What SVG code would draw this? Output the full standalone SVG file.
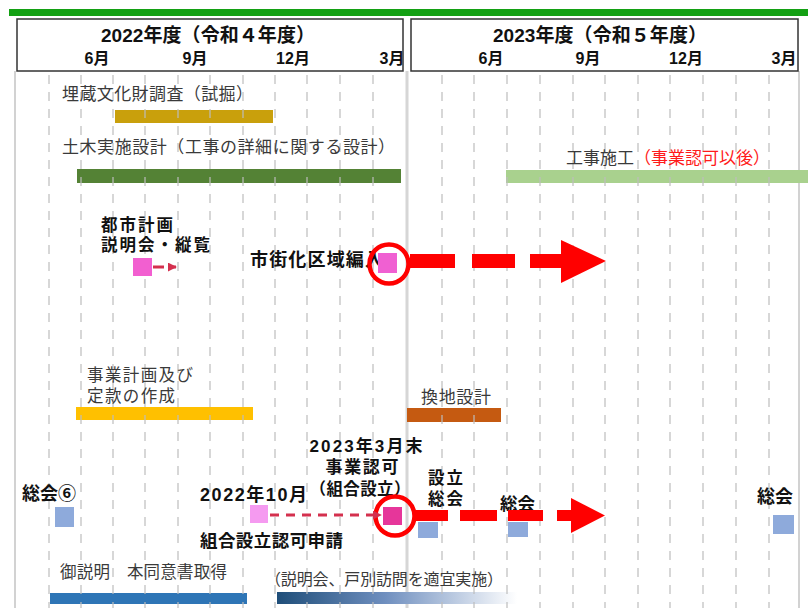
<svg xmlns="http://www.w3.org/2000/svg" width="808" height="608" viewBox="0 0 808 608">
<defs>
<style>
text{font-family:"Liberation Sans","Noto Sans CJK JP",sans-serif;fill:#222}
.b{font-weight:bold;fill:#111}
.r{fill:#3a3a3a}
.grid line{stroke:#bdbdbd;stroke-width:1.6;stroke-dasharray:9 8;opacity:0.75}
.sq{stroke:none}
.blue{fill:#8eaadb}
.hdr{fill:#fff;stroke:#333;stroke-width:1.5}
</style>
<linearGradient id="gfade" x1="0" y1="0" x2="1" y2="0">
<stop offset="0" stop-color="#1f4e79"/>
<stop offset="0.45" stop-color="#6f8fbf"/>
<stop offset="1" stop-color="#ffffff"/>
</linearGradient>
<marker id="sm" viewBox="0 0 10 10" refX="9" refY="5" markerWidth="3" markerHeight="3" orient="auto" markerUnits="strokeWidth">
<path d="M0,0 L10,5 L0,10 z" fill="#d4304e"/>
</marker>
</defs>
<rect width="808" height="608" fill="#fff"/>
<rect x="9" y="9" width="799" height="7" fill="#13a013"/>
<g id="frame">
<line x1="15" y1="71" x2="15" y2="608" stroke="#d2d2d2" stroke-width="2"/>
<line x1="407" y1="71" x2="407" y2="608" stroke="#d6d6d6" stroke-width="3"/>
<line x1="799" y1="71" x2="799" y2="608" stroke="#d2d2d2" stroke-width="2"/>
</g>
<g id="header2022">
<rect class="hdr" x="17" y="19" width="386" height="52"/>
<text class="b" x="208" y="42" font-size="19" text-anchor="middle" textLength="214">2022年度（令和４年度）</text>
<text class="b" x="97" y="64" font-size="16" text-anchor="middle">6月</text>
<text class="b" x="195" y="64" font-size="16" text-anchor="middle">9月</text>
<text class="b" x="293" y="64" font-size="16" text-anchor="middle">12月</text>
<text class="b" x="392" y="64" font-size="16" text-anchor="middle">3月</text>
</g>
<g id="header2023">
<rect class="hdr" x="411" y="19" width="387" height="52"/>
<text class="b" x="600" y="42" font-size="19" text-anchor="middle" textLength="214">2023年度（令和５年度）</text>
<text class="b" x="491" y="64" font-size="16" text-anchor="middle">6月</text>
<text class="b" x="588" y="64" font-size="16" text-anchor="middle">9月</text>
<text class="b" x="686" y="64" font-size="16" text-anchor="middle">12月</text>
<text class="b" x="784" y="64" font-size="16" text-anchor="middle">3月</text>
</g>
<g id="bars">
<rect x="115" y="110" width="158" height="13" fill="#c9a00c"/>
<rect x="77" y="169" width="324" height="14" fill="#548235"/>
<rect x="506" y="170" width="302" height="13" fill="#a9d18e"/>
<rect x="76" y="407" width="177" height="13" fill="#ffc000"/>
<rect x="407" y="408" width="94" height="14" fill="#c55a11"/>
<rect x="50" y="593" width="197" height="11" fill="#2e75b6"/>
<rect x="277" y="592" width="240" height="12" fill="url(#gfade)"/>
</g>
<g class="grid">
<line x1="49" y1="75" x2="49" y2="608"/>
<line x1="81" y1="75" x2="81" y2="608"/>
<line x1="113" y1="75" x2="113" y2="608"/>
<line x1="145" y1="75" x2="145" y2="608"/>
<line x1="178" y1="75" x2="178" y2="608"/>
<line x1="210" y1="75" x2="210" y2="608"/>
<line x1="243" y1="75" x2="243" y2="608"/>
<line x1="275" y1="75" x2="275" y2="608"/>
<line x1="307" y1="75" x2="307" y2="608"/>
<line x1="340" y1="75" x2="340" y2="608"/>
<line x1="373" y1="75" x2="373" y2="608"/>
<line x1="442" y1="75" x2="442" y2="608"/>
<line x1="474" y1="75" x2="474" y2="608"/>
<line x1="507" y1="75" x2="507" y2="608"/>
<line x1="540" y1="75" x2="540" y2="608"/>
<line x1="573" y1="75" x2="573" y2="608"/>
<line x1="605" y1="75" x2="605" y2="608"/>
<line x1="638" y1="75" x2="638" y2="608"/>
<line x1="670" y1="75" x2="670" y2="608"/>
<line x1="703" y1="75" x2="703" y2="608"/>
<line x1="736" y1="75" x2="736" y2="608"/>
<line x1="769" y1="75" x2="769" y2="608"/>
</g>
<g id="labels">
<text class="r" x="62" y="100" font-size="17" textLength="191">埋蔵文化財調査（試掘）</text>
<text class="r" x="62" y="153" font-size="17" textLength="333">土木実施設計（工事の詳細に関する設計）</text>
<text x="566" y="164" font-size="17"><tspan class="r" fill="#3a3a3a">工事施工</tspan><tspan fill="#ff1a1a">（事業認可以後）</tspan></text>
<text class="r" x="87" y="381" font-size="16.5" textLength="106">事業計画及び</text>
<text class="r" x="87" y="402" font-size="16.5" textLength="88">定款の作成</text>
<text class="r" x="421" y="403" font-size="17" textLength="70">換地設計</text>
<text class="r" x="60" y="578" font-size="16.5" textLength="167">御説明　本同意書取得</text>
<text class="r" x="265" y="585" font-size="16" textLength="238">（説明会、戸別訪問を適宜実施）</text>
</g>
<g id="toshikeikaku">
<text class="b" x="101" y="231" font-size="16.5" textLength="72">都市計画</text>
<text class="b" x="101" y="251" font-size="16.5" textLength="109">説明会・縦覧</text>
<rect class="sq" x="133" y="258" width="19" height="18" fill="#f25fd0"/>
</g>
<g id="shigaika">
<text class="b" x="250" y="266" font-size="18" textLength="133">市街化区域編入</text>
<rect class="sq" x="378" y="253" width="19" height="20" fill="#f060d2"/>
<circle cx="389" cy="264" r="19.5" fill="none" stroke="#ff0000" stroke-width="4.5"/>
</g>
<g id="shinsei">
<text class="b" x="200" y="501" font-size="18" textLength="107">2022年10月</text>
<text class="b" x="200" y="547" font-size="17.5" textLength="143">組合設立認可申請</text>
<rect class="sq" x="250" y="505" width="18" height="18" fill="#f59af0"/>
</g>
<g id="ninka">
<text class="b" x="366" y="452" font-size="17" text-anchor="middle" textLength="113">2023年3月末</text>
<text class="b" x="362" y="473" font-size="17" text-anchor="middle" textLength="73">事業認可</text>
<text class="b" x="360" y="495" font-size="16.5" text-anchor="middle" textLength="101">（組合設立）</text>
<rect class="sq" x="383" y="507" width="19" height="18" fill="#e6369a"/>
<circle cx="395" cy="516" r="19.5" fill="none" stroke="#ff0000" stroke-width="4.5"/>
</g>
<g id="soukai6">
<text class="b" x="22" y="500" font-size="18">総会⑥</text>
<rect class="sq blue" x="55" y="507" width="19" height="20"/>
</g>
<g id="setsuritsu">
<text class="b" x="428" y="484" font-size="16.5" textLength="35">設立</text>
<text class="b" x="428" y="505" font-size="16.5" textLength="35">総会</text>
<rect class="sq blue" x="418" y="522" width="20" height="16"/>
</g>
<g id="soukai2">
<text class="b" x="500" y="510" font-size="17.5">総会</text>
<rect class="sq blue" x="508" y="522" width="20" height="15"/>
</g>
<g id="soukai3">
<text class="b" x="757" y="503" font-size="18">総会</text>
<rect class="sq blue" x="773" y="515" width="21" height="19"/>
</g>
<g id="connectors">
<line x1="153" y1="267" x2="176" y2="267" stroke="#d4304e" stroke-width="3" stroke-dasharray="11 6" marker-end="url(#sm)"/>
<line x1="270" y1="515" x2="381" y2="515" stroke="#d4304e" stroke-width="3" stroke-dasharray="9 7" marker-end="url(#sm)"/>
<g fill="#ff0000">
<rect x="410" y="254" width="45" height="14"/>
<rect x="472" y="254" width="43" height="14"/>
<rect x="530" y="254" width="33" height="14"/>
<polygon points="561,240 606,261 561,283"/>
<rect x="414" y="510" width="34" height="11"/>
<rect x="460" y="510" width="37" height="11"/>
<rect x="508" y="510" width="35" height="11"/>
<rect x="557" y="510" width="16" height="11"/>
<polygon points="571,498 605,515.5 571,533"/>
</g>
</g>
</svg>
